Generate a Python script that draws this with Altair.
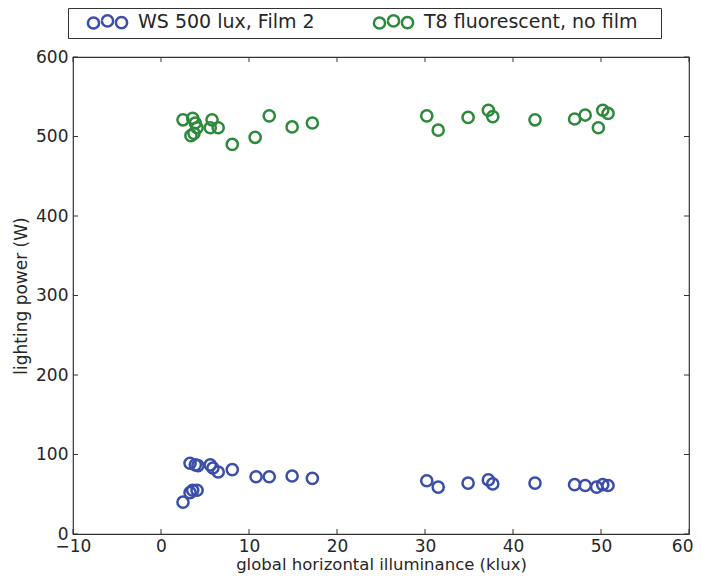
import altair as alt
import pandas as pd

# ---- data ----
blue_name = "WS 500 lux, Film 2"
green_name = "T8 fluorescent, no film"

blue_x = [2.5, 3.3, 3.6, 4.1, 3.3, 3.9, 4.2, 5.6, 5.9, 6.5, 8.1, 10.8, 12.3, 14.9, 17.2,
          30.2, 31.5, 34.9, 37.2, 37.7, 42.5, 47.0, 48.2, 49.5, 50.2, 50.8]
blue_y = [40, 52, 55, 55, 89, 87, 86, 87, 83, 78, 81, 72, 72, 73, 70,
          67, 59, 64, 68, 63, 64, 62, 61, 59, 62, 61]

green_x = [2.5, 3.6, 3.9, 4.1, 3.75, 3.4, 5.8, 5.6, 6.5, 8.1, 10.7, 12.3, 14.9, 17.2,
           30.2, 31.5, 34.9, 37.2, 37.7, 42.5, 47.0, 48.2, 49.7, 50.2, 50.8]
green_y = [521, 523, 517, 511, 504, 501, 521, 511, 511, 490, 499, 526, 512, 517,
           526, 508, 524, 533, 525, 521, 522, 527, 511, 533, 529]

x_ticks = [-10, 0, 10, 20, 30, 40, 50, 60]
y_ticks = [0, 100, 200, 300, 400, 500, 600]

BLUE = "#3b4ea9"
GREEN = "#2d8a3b"
TXT = "#262626"
FONT = "DejaVu Sans"

W, H = 616, 477

df = pd.concat([
    pd.DataFrame({"x": blue_x, "y": blue_y, "series": blue_name}),
    pd.DataFrame({"x": green_x, "y": green_y, "series": green_name}),
])
xt = pd.DataFrame({"v": x_ticks})
yt = pd.DataFrame({"v": y_ticks})

xscale = alt.Scale(domain=[-10, 60], nice=False, zero=False)
yscale = alt.Scale(domain=[0, 600], nice=False)

# three-circle legend symbol (units of 7px)
r = 0.8
def circ(cx, cy):
    return f"M{cx - r},{cy} a{r},{r} 0 1,0 {2 * r},0 a{r},{r} 0 1,0 {-2 * r},0 "
three = circ(-2, 0.15) + circ(0, -0.15) + circ(2, 0.1)

last_x = x_ticks[-1]
pad_expr = f"datum.label == '{green_name}' ? datum.label + '\u2003\u200b' : datum.label"

points = alt.Chart(df).mark_point(filled=False, size=125, strokeWidth=2.5, opacity=1).encode(
    x=alt.X("x:Q", scale=xscale,
            axis=alt.Axis(values=x_ticks, title="global horizontal illuminance (klux)",
                          ticks=False, domain=False, grid=False, labelPadding=4,
                          titlePadding=2, labelFlush=False, titleFontSize=16.5,
                          labelAlign={"condition": {"test": f"datum.value == {last_x}", "value": "right"},
                                      "value": "center"},
                          labelOffset={"condition": {"test": f"datum.value == {last_x}", "value": 4},
                                       "value": 0})),
    y=alt.Y("y:Q", scale=yscale,
            axis=alt.Axis(values=y_ticks, title="lighting power (W)", ticks=False,
                          domain=False, grid=False, labelPadding=5, titlePadding=5,
                          labelFlush=False)),
    color=alt.Color("series:N",
                    scale=alt.Scale(domain=[blue_name, green_name], range=[BLUE, GREEN]),
                    legend=alt.Legend(title=None, orient="none", direction="horizontal",
                                      legendX=-5, legendY=-49, symbolType=three,
                                      symbolSize=196, symbolStrokeWidth=2.5,
                                      symbolOffset=26, labelOffset=21, columnPadding=43,
                                      labelFontSize=19, labelFont=FONT, labelColor=TXT,
                                      labelLimit=400, padding=4, strokeColor="#333333",
                                      fillColor="white", symbolFillColor="transparent",
                                      labelExpr=pad_expr)),
)

tick_len = 5
bottom = alt.Chart(xt).mark_rule(color="#333333", strokeWidth=1).encode(
    x=alt.X("v:Q", scale=xscale), y=alt.value(H), y2=alt.value(H - tick_len))
top = alt.Chart(xt).mark_rule(color="#333333", strokeWidth=1).encode(
    x=alt.X("v:Q", scale=xscale), y=alt.value(0), y2=alt.value(tick_len))
left = alt.Chart(yt).mark_rule(color="#333333", strokeWidth=1).encode(
    y=alt.Y("v:Q", scale=yscale), x=alt.value(0), x2=alt.value(tick_len))
right = alt.Chart(yt).mark_rule(color="#333333", strokeWidth=1).encode(
    y=alt.Y("v:Q", scale=yscale), x=alt.value(W - tick_len), x2=alt.value(W))

chart = alt.layer(points, bottom, top, left, right).properties(
    width=W, height=H,
    autosize=alt.AutoSizeParams(type="none"),
    padding={"left": 65, "top": 49, "right": 4, "bottom": 40},
).configure_view(
    stroke="#333333", strokeWidth=1.2
).configure_axis(
    labelFont=FONT, titleFont=FONT, labelFontSize=17, titleFontSize=17,
    labelColor=TXT, titleColor=TXT, titleFontWeight="normal"
)

chart.save("out.html", embed_options={"renderer": "svg", "actions": False})
